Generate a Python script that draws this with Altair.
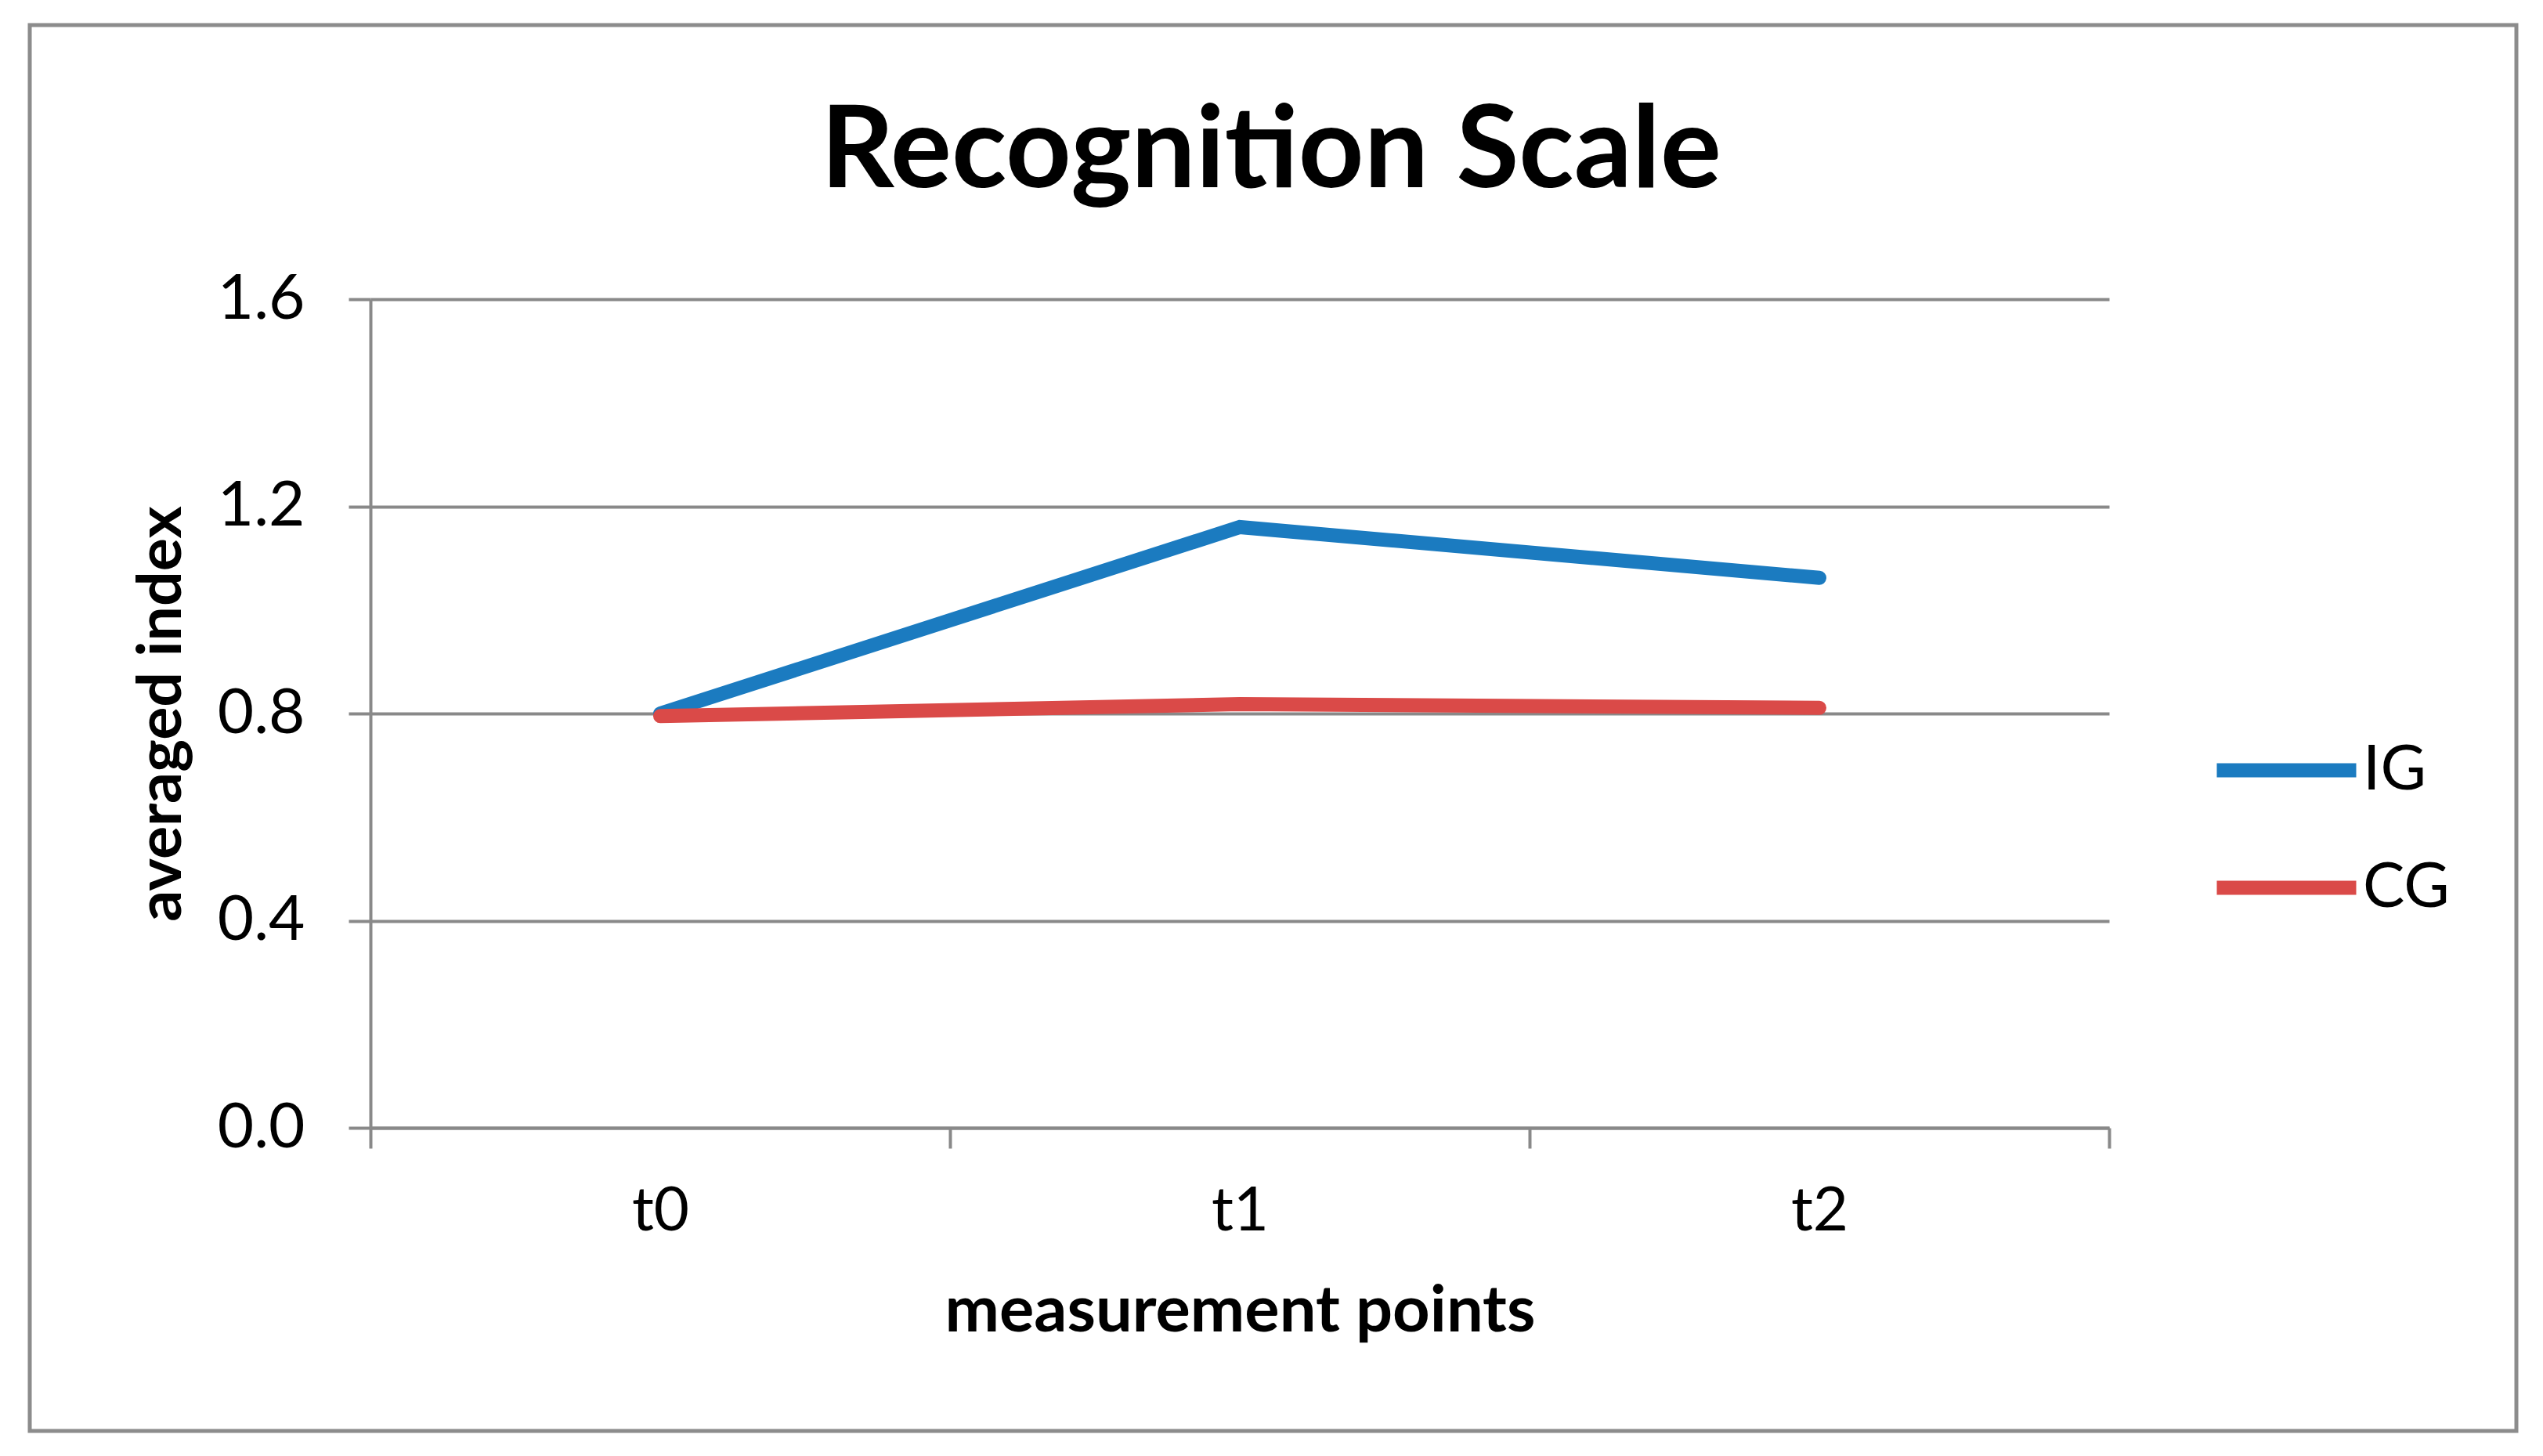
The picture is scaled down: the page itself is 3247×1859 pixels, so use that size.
import altair as alt
import pandas as pd

# ---- data ----
points = ["t0", "t1", "t2"]
ig_values = [0.80, 1.16, 1.062]
cg_values = [0.795, 0.818, 0.811]
series = ["IG", "CG"]
series_colors = ["#1B7BC0", "#DA4A48"]
y_ticks = [0.0, 0.4, 0.8, 1.2, 1.6]

rows = []
for name, vals in zip(series, [ig_values, cg_values]):
    for p, v in zip(points, vals):
        rows.append({"point": p, "value": v, "group": name})
df = pd.DataFrame(rows)

GRAY = "#898989"
FONT = "Lato"

lines = alt.Chart(df).mark_line(strokeWidth=18, strokeCap="round").encode(
    x=alt.X(
        "point:N",
        sort=points,
        bandPosition=0.5,
        scale=alt.Scale(type="band", paddingInner=0, paddingOuter=0),
        axis=alt.Axis(
            title="measurement points",
            labelAngle=0,
            tickBand="extent",
            ticks=True,
            tickSize=26,
            tickColor=GRAY,
            tickWidth=4,
            domainColor=GRAY,
            domainWidth=4,
            grid=False,
            labelFont=FONT,
            labelFontSize=78,
            labelColor="black",
            labelPadding=42,
            titleFont=FONT,
            titleFontSize=83,
            titleFontWeight="bold",
            titleColor="black",
            titlePadding=47,
        ),
    ),
    y=alt.Y(
        "value:Q",
        scale=alt.Scale(domain=[0, 1.6], nice=False, zero=True),
        axis=alt.Axis(
            title="averaged index",
            values=y_ticks,
            format=".1f",
            grid=True,
            gridColor=GRAY,
            gridWidth=4,
            ticks=True,
            tickSize=28,
            tickColor=GRAY,
            tickWidth=4,
            domainColor=GRAY,
            domainWidth=4,
            labelFont=FONT,
            labelFontSize=80,
            labelColor="black",
            labelPadding=56,
            titleFont=FONT,
            titleFontSize=79,
            titleFontWeight="bold",
            titleColor="black",
            titlePadding=30,
        ),
    ),
    color=alt.Color(
        "group:N",
        sort=series,
        scale=alt.Scale(domain=series, range=series_colors),
        legend=alt.Legend(
            title=None,
            orient="none",
            legendX=2393,
            legendY=548,
            symbolType="M-2,0L2,0",
            symbolSize=7921,
            symbolStrokeWidth=18,
            labelOffset=44,
            labelFont=FONT,
            labelFontSize=80,
            labelColor="black",
            rowPadding=56,
            padding=0,
        ),
    ),
)

border = alt.Chart(pd.DataFrame({"k": [0]})).mark_rect(
    filled=False, stroke="#8C8C8C", strokeWidth=5
).encode(
    x=alt.value(-435), x2=alt.value(2740), y=alt.value(-350), y2=alt.value(1445)
)

chart = alt.layer(border, lines).properties(
    width=2220,
    height=1058,
    padding={"left": 27, "top": 21, "right": 5, "bottom": 5},
    background="white",
    title=alt.Title(
        "Recognition Scale",
        font=FONT,
        fontSize=146,
        fontWeight="bold",
        color="black",
        anchor="middle",
        dx=40,
        offset=-240,
    ),
).configure_view(stroke=None)

chart.save("out.html", embed_options={"renderer": "svg", "actions": False})
